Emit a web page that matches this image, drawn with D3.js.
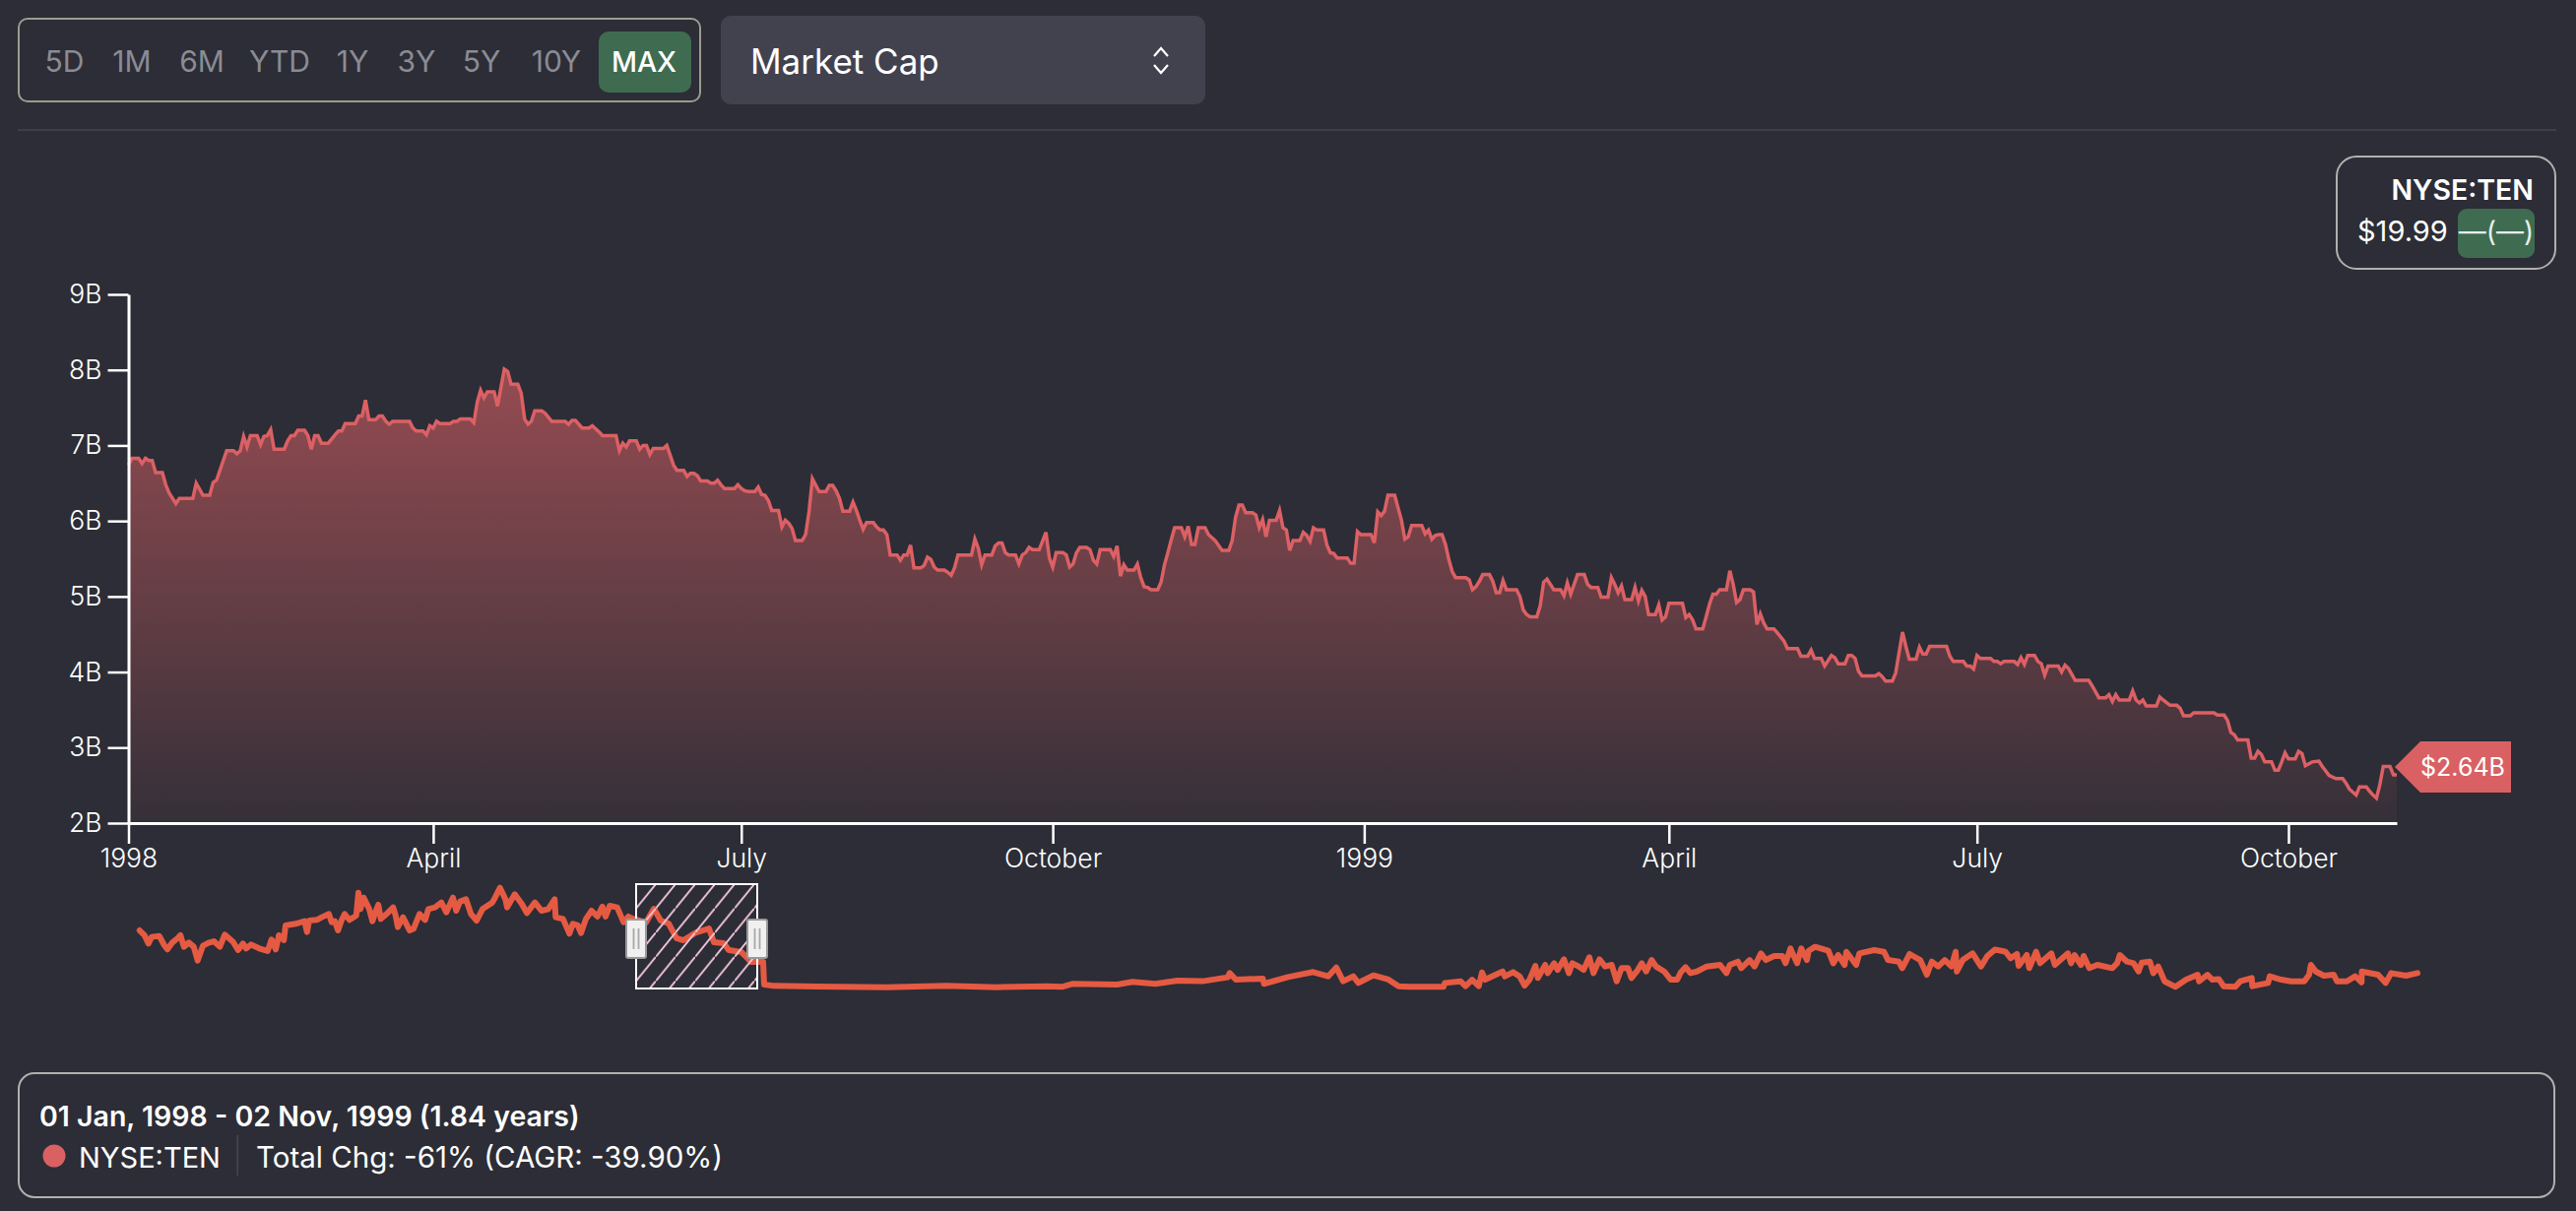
<!DOCTYPE html>
<html>
<head>
<meta charset="utf-8">
<script src="https://cdn.jsdelivr.net/npm/d3@7"></script>
<style>
html,body{margin:0;padding:0;background:#2c2d36;}
svg{display:block;}
text{font-family:Inter,"Noto Sans",sans-serif;}
</style>
</head>
<body>
<svg id="chart" width="2616" height="1230"></svg>
<script>
// ---- data ----
const startDate = "1998-01-01";
const dayOffsets = [
0,1,3,4,5,6,7,8,10,11,
12,14,15,19,20,22,24,25,26,29,
31,32,33,34,35,36,38,39,40,41,
42,43,46,47,48,49,50,52,53,54,
55,56,57,59,61,62,63,64,67,68,
69,70,71,73,74,75,76,77,78,83,
84,85,87,88,89,90,91,92,95,96,
97,98,101,102,103,104,105,106,108,109,
111,112,113,115,116,117,118,119,120,122,
123,125,129,130,131,132,134,136,137,139,
140,144,145,146,147,148,150,151,152,153,
154,155,158,159,160,161,162,164,165,166,
167,168,169,171,172,173,174,175,176,179,
180,181,182,183,185,186,187,188,189,190,
192,193,194,195,196,197,199,200,201,202,
204,206,207,208,209,210,211,213,214,215,
216,217,218,220,221,222,223,224,225,227,
228,229,230,231,232,234,235,236,237,238,
239,241,242,243,244,245,249,250,251,252,
253,255,256,257,258,259,260,262,263,264,
265,266,267,269,271,272,273,274,276,277,
278,279,280,281,283,284,285,286,287,290,
291,292,293,294,295,297,298,299,300,301,
302,304,305,306,307,308,309,311,312,313,
314,315,316,318,319,321,323,325,326,327,
328,329,330,332,333,334,335,336,337,339,
340,341,342,343,344,346,347,348,349,350,
351,353,354,355,356,357,360,361,362,363,
364,367,368,369,370,371,372,374,376,377,
378,379,382,383,384,385,386,387,388,389,
390,391,392,395,396,397,398,399,400,402,
403,404,405,406,407,410,411,412,413,414,
416,417,418,419,421,423,424,425,426,428,
430,431,432,434,435,437,438,439,440,441,
442,444,445,446,447,448,449,451,452,453,
454,455,459,460,461,462,463,465,466,467,
468,469,470,472,473,474,475,476,477,479,
480,481,482,483,484,486,487,489,490,493,
494,496,497,498,500,501,503,504,505,507,
508,509,510,511,512,516,517,518,519,521,
522,524,525,526,528,529,530,531,532,537,
538,539,542,543,544,545,546,547,550,551,
552,553,554,557,558,559,560,561,563,564,
565,566,567,570,571,572,573,574,575,579,
580,581,582,584,585,586,587,588,591,592,
593,594,595,596,599,600,601,603,605,606,
607,609,610,616,617,619,620,621,622,623,
626,627,628,629,630,631,633,634,635,636,
637,638,640,641,642,643,645,647,648,649,
650,652,654,655,656,658,659,661,662,663,
664,665,666,668,669,670];
const marketCapB = [
6.74,6.83,6.83,6.76,6.83,6.80,6.80,6.64,6.64,6.48,
6.37,6.23,6.30,6.30,6.50,6.34,6.34,6.51,6.54,6.93,
6.93,6.89,6.93,7.12,6.98,7.13,7.13,7.01,7.12,7.13,
7.21,6.95,6.95,7.06,7.13,7.13,7.20,7.20,7.13,6.95,
7.13,7.13,7.03,7.03,7.14,7.19,7.19,7.29,7.29,7.39,
7.39,7.60,7.34,7.34,7.39,7.39,7.32,7.28,7.32,7.32,
7.23,7.19,7.19,7.14,7.26,7.23,7.32,7.29,7.29,7.32,
7.32,7.35,7.35,7.30,7.57,7.73,7.63,7.71,7.71,7.52,
8.01,7.98,7.81,7.81,7.69,7.35,7.28,7.32,7.46,7.46,
7.43,7.32,7.32,7.28,7.33,7.33,7.23,7.23,7.26,7.18,
7.13,7.13,6.93,7.03,6.98,7.06,7.06,6.95,7.00,7.00,
6.88,6.96,6.96,7.00,6.87,6.74,6.67,6.67,6.59,6.63,
6.63,6.60,6.53,6.53,6.50,6.50,6.54,6.48,6.43,6.43,
6.48,6.43,6.40,6.39,6.39,6.45,6.35,6.34,6.27,6.14,
6.14,5.92,6.01,5.97,5.90,5.74,5.74,5.82,6.12,6.56,
6.39,6.39,6.47,6.47,6.40,6.30,6.13,6.13,6.25,6.14,
6.01,5.89,5.98,5.98,5.92,5.88,5.88,5.82,5.55,5.55,
5.48,5.55,5.55,5.68,5.38,5.38,5.41,5.52,5.49,5.39,
5.35,5.35,5.32,5.28,5.38,5.55,5.55,5.76,5.64,5.42,
5.55,5.55,5.67,5.71,5.71,5.58,5.55,5.55,5.43,5.55,
5.58,5.65,5.62,5.62,5.85,5.51,5.39,5.58,5.58,5.55,
5.39,5.43,5.58,5.65,5.65,5.62,5.48,5.43,5.62,5.62,
5.53,5.67,5.27,5.42,5.35,5.35,5.43,5.25,5.13,5.12,
5.09,5.09,5.19,5.42,5.58,5.75,5.91,5.91,5.79,5.93,
5.69,5.69,5.91,5.91,5.82,5.74,5.61,5.61,5.74,6.05,
6.21,6.21,6.11,6.11,6.08,5.91,6.02,5.79,6.01,6.01,
6.14,5.91,5.88,5.61,5.74,5.74,5.85,5.81,5.73,5.91,
5.88,5.88,5.68,5.58,5.57,5.51,5.51,5.44,5.44,5.86,
5.82,5.82,5.71,6.12,6.07,6.13,6.34,6.34,6.01,5.76,
5.79,5.94,5.94,5.83,5.88,5.76,5.81,5.82,5.82,5.69,
5.49,5.33,5.25,5.25,5.22,5.09,5.13,5.20,5.29,5.29,
5.20,5.05,5.05,5.21,5.09,5.09,5.00,4.82,4.76,4.73,
4.73,4.88,5.19,5.23,5.09,5.09,5.01,5.18,5.03,5.29,
5.29,5.16,5.12,5.12,4.99,4.99,5.25,5.16,5.05,5.14,
4.96,4.96,5.12,4.94,5.08,5.00,4.76,4.76,4.89,4.69,
4.73,4.91,4.91,4.72,4.76,4.69,4.57,4.57,4.73,4.90,
5.03,5.03,5.09,5.09,5.34,5.16,4.92,4.96,5.09,5.09,
5.06,4.63,4.77,4.65,4.57,4.57,4.52,4.41,4.31,4.31,
4.21,4.21,4.29,4.18,4.18,4.08,4.22,4.19,4.11,4.11,
4.22,4.22,4.18,4.01,3.95,3.95,3.98,3.94,3.88,3.88,
3.99,4.53,4.34,4.17,4.17,4.33,4.24,4.24,4.34,4.34,
4.21,4.14,4.14,4.08,4.08,4.04,4.22,4.18,4.18,4.14,
4.14,4.11,4.14,4.14,4.10,4.19,4.10,4.22,4.22,4.14,
4.11,3.96,4.08,4.08,4.00,4.09,4.05,3.97,3.89,3.89,
3.82,3.74,3.66,3.66,3.70,3.61,3.70,3.63,3.63,3.75,
3.63,3.59,3.63,3.55,3.55,3.67,3.63,3.56,3.56,3.52,
3.42,3.42,3.46,3.46,3.43,3.43,3.36,3.20,3.17,3.10,
3.10,2.86,2.86,2.95,2.91,2.81,2.81,2.70,2.70,2.81,
2.93,2.85,2.85,2.95,2.92,2.76,2.81,2.82,2.75,2.69,
2.63,2.59,2.59,2.53,2.45,2.37,2.48,2.48,2.42,2.37,
2.33,2.51,2.75,2.75,2.64,2.64];

const navSessions = [
3,23,39,52,83,103,116,136,156,169,183,203,223,239,260,283,305,329,349,383,
403,423,436,456,489,523,539,556,569,589,596,636,673,683,692,723,743,772,783,796,
809,823,836,856,883,892,900,913,936,949,959,973,983,1009,1033,1043,1052,1073,1100,1116,
1140,1163,1176,1203,1229,1249,1276,1289,1305,1329,1349,1372,1396,1436,1447,1467,1489,1496,1527,1556,
1576,1609,1636,1663,1689,1693,1723,1749,1763,1783,1796,1816,1839,1863,1883,1896,1913,1943,1969,1989,
1996,2060,2092,2120,2152,2184,2212,2264,2316,2336,2376,2396,2448,2488,2536,2540,2580,2756,3036,3281,
3485,3689,3750,3791,3974,4036,4129,4219,4321,4423,4431,4456,4566,4570,4668,4770,4831,4864,4892,4933,
4954,5015,5076,5117,5158,5300,5305,5369,5389,5416,5443,5456,5469,5503,5540,5549,5583,5609,5629,5649,
5673,5683,5713,5723,5749,5763,5789,5809,5823,5849,5869,5892,5909,5933,5956,5983,6003,6023,6049,6063,
6089,6105,6123,6145,6163,6196,6223,6249,6263,6283,6303,6329,6369,6423,6449,6463,6496,6509,6543,6563,
6589,6609,6643,6676,6689,6709,6736,6753,6776,6783,6809,6863,6883,6903,6929,6936,6976,6989,7049,7089,
7105,7149,7163,7193,7236,7263,7283,7309,7336,7363,7380,7385,7409,7449,7483,7509,7540,7583,7603,7629,
7636,7669,7679,7707,7723,7769,7783,7836,7849,7863,7889,7900,7923,7956,8016,8036,8047,8076,8103,8123,
8136,8169,8183,8203,8229,8273,8316,8363,8369,8403,8423,8449,8469,8516,8536,8583,8585,8649,8656,8703,
8743,8796,8816,8823,8843,8876,8916,8929,8969,9003,9029,9030,9096,9127,9149,9209,9256];
const navValuesB = [
5.27,4.82,4.06,4.67,4.76,3.91,3.52,4.15,4.52,4.82,3.76,4.15,3.76,2.49,3.85,4.12,4.27,3.76,4.88,4.21,
3.46,4.06,3.61,3.97,3.61,3.37,4.43,3.52,4.82,4.37,5.73,5.88,6.12,5.12,6.18,6.24,6.49,6.79,6.03,6.12,
5.27,6.18,6.79,6.24,6.64,8.76,7.24,8.30,7.24,6.12,6.85,7.64,6.33,6.85,7.40,6.64,5.58,6.49,5.27,5.43,
6.79,6.24,7.24,7.40,7.85,6.94,8.30,7.09,7.94,8.15,6.79,6.18,7.24,7.85,8.30,9.21,8.15,7.40,8.61,7.70,
6.88,7.85,7.09,7.24,8.15,6.49,6.33,4.97,5.88,5.73,5.03,6.33,7.09,6.55,7.46,6.55,7.55,7.40,6.03,6.55,
6.45,6.00,7.27,6.18,5.91,4.55,4.36,5.09,5.45,4.18,4.09,3.45,3.27,2.36,2.36,0.27,0.15,0.10,0.03,0.15,
0.03,0.12,0.06,0.34,0.28,0.52,0.34,0.64,0.58,0.94,1.34,0.73,0.82,0.34,0.97,1.43,1.03,1.85,0.58,1.03,
0.43,1.12,0.73,0.12,0.06,0.06,0.42,0.57,0.12,0.72,0.12,1.39,0.72,1.09,1.48,1.03,1.42,1.03,0.18,0.72,
2.00,0.88,2.09,1.33,2.24,1.63,2.60,1.33,2.24,1.94,1.63,2.79,1.33,2.60,1.94,2.09,0.57,1.79,1.79,0.88,
1.63,2.24,1.48,2.54,1.94,1.48,0.72,0.72,1.39,1.88,1.33,1.48,1.94,2.09,1.33,2.09,2.39,1.79,2.54,1.94,
3.15,2.54,2.91,2.91,2.24,3.60,2.24,3.60,2.54,3.39,3.76,3.39,2.24,3.00,2.09,3.30,2.09,3.15,3.45,3.30,
2.54,2.39,1.79,3.09,2.54,1.18,2.39,1.94,2.54,1.94,3.30,1.48,2.54,3.15,1.94,2.91,3.51,3.30,2.70,3.09,
2.00,3.00,1.79,3.30,2.24,3.15,2.09,3.15,2.24,3.00,2.09,2.91,1.79,2.09,1.79,2.24,3.00,2.39,2.24,1.48,
2.30,2.39,1.33,1.94,0.57,0.06,0.72,1.18,0.57,1.18,0.72,0.78,0.12,0.06,0.57,0.88,0.12,0.42,1.03,0.72,
0.57,0.57,1.18,2.09,1.48,1.09,1.18,0.57,0.57,1.03,0.48,1.48,1.18,0.42,1.33,1.09,1.33];
const navSelection = [2020, 2512];

const yTicks = [2,3,4,5,6,7,8,9];
const xTickDates = ["1998-01-01","1998-04-01","1998-07-01","1998-10-01","1999-01-01","1999-04-01","1999-07-01","1999-10-01"];
const xTickLabels = ["1998","April","July","October","1999","April","July","October"];
const rangeLabels = ["5D","1M","6M","YTD","1Y","3Y","5Y","10Y","MAX"];
const rangeCentres = [65.5,134,205,284,358,423,489,565,654];

// ---- chart ----
const svg = d3.select("#chart");
const C = {bg:"#2c2d36", line:"#dc6064", nav:"#e55a42", green:"#3f6b51", panel:"#42424f", white:"#ffffff"};
const parse = d3.timeParse("%Y-%m-%d");
const t0 = parse(startDate);
const series = dayOffsets.map((d,i)=>({date:d3.timeDay.offset(t0,d), v:marketCapB[i]}));
const navSeries = navSessions.map((s,i)=>({s, v:navValuesB[i]}));

svg.append("rect").attr("width",2616).attr("height",1230).attr("fill",C.bg);

const defs = svg.append("defs");
const grad = defs.append("linearGradient").attr("id","areaFill").attr("x1",0).attr("x2",0).attr("y1",0).attr("y2",1);
grad.append("stop").attr("offset","0%").attr("stop-color",C.line).attr("stop-opacity",0.6);
grad.append("stop").attr("offset","100%").attr("stop-color",C.line).attr("stop-opacity",0.05);
const hatch = defs.append("pattern").attr("id","hatch").attr("patternUnits","userSpaceOnUse")
  .attr("width",20).attr("height",24.6).attr("x",646).attr("y",898);
hatch.append("line").attr("x1",-2).attr("y1",27.06).attr("x2",22).attr("y2",-2.46)
  .attr("stroke","#f0c4d8").attr("stroke-width",1.9);

// top controls
svg.append("rect").attr("x",19).attr("y",19).attr("width",692).attr("height",84).attr("rx",9)
  .attr("fill","none").attr("stroke","#9c9c8e").attr("stroke-width",2);
svg.append("rect").attr("x",608).attr("y",32).attr("width",94).attr("height",62).attr("rx",10).attr("fill",C.green);
svg.selectAll("text.range").data(rangeLabels).join("text").attr("class","range")
  .attr("x",(d,i)=>rangeCentres[i]).attr("y",73).attr("text-anchor","middle")
  .attr("font-size",d=>d==="MAX"?28.5:30).attr("fill",d=>d==="MAX"?"#ffffff":"#8b8b94").attr("font-weight",d=>d==="MAX"?500:400)
  .text(d=>d);
svg.append("rect").attr("x",732).attr("y",16).attr("width",492).attr("height",90).attr("rx",10).attr("fill",C.panel);
svg.append("text").attr("x",762).attr("y",75).attr("font-size",35).attr("fill","#fff").text("Market Cap");
svg.append("path").attr("d","M1172,57L1179,49L1186,57M1172,66L1179,74L1186,66")
  .attr("fill","none").attr("stroke","#fff").attr("stroke-width",2.2);
svg.append("rect").attr("x",18).attr("y",131).attr("width",2578).attr("height",2).attr("fill","#3f3f4c");

// legend box
svg.append("rect").attr("x",2373).attr("y",159).attr("width",222).attr("height",114).attr("rx",20)
  .attr("fill","none").attr("stroke","#b0b0b0").attr("stroke-width",2);
svg.append("text").attr("x",2573).attr("y",203).attr("text-anchor","end").attr("font-size",28.5).attr("font-weight",600).attr("fill","#fff").text("NYSE:TEN");
svg.append("text").attr("x",2394).attr("y",245).attr("font-size",29).attr("fill","#fff").text("$19.99");
svg.append("rect").attr("x",2496).attr("y",212).attr("width",78).attr("height",50).attr("rx",9).attr("fill",C.green);
svg.append("text").attr("x",2535).attr("y",245).attr("text-anchor","middle").attr("font-size",28).attr("fill","#e6efe9").text("—(—)");

// scales
const x = d3.scaleTime().domain([t0, d3.timeDay.offset(t0,670)]).range([130.5,2434]);
const y = d3.scaleLinear().domain([2,9]).range([836,299]);

const area = d3.area().x(d=>x(d.date)).y0(y(2)).y1(d=>y(d.v));
const line = d3.line().x(d=>x(d.date)).y(d=>y(d.v));
svg.append("path").datum(series).attr("d",area).attr("fill","url(#areaFill)");
svg.append("path").datum(series).attr("d",line).attr("fill","none").attr("stroke",C.line).attr("stroke-width",3.5);

// axes
const yAxis = d3.axisLeft(y).tickValues(yTicks).tickFormat(d=>d+"B").tickSize(21).tickSizeOuter(0).tickPadding(6);
const xAxis = d3.axisBottom(x).tickValues(xTickDates.map(parse)).tickFormat((d,i)=>xTickLabels[i]).tickSize(21).tickSizeOuter(0).tickPadding(5);
const gy = svg.append("g").attr("transform","translate(130.5,0)").call(yAxis);
const gx = svg.append("g").attr("transform","translate(0,836)").call(xAxis);
[gy,gx].forEach(g=>{
  g.selectAll("path.domain").attr("stroke","#fff").attr("stroke-width",3);
  g.selectAll(".tick line").attr("stroke","#fff").attr("stroke-width",2.5);
  g.selectAll(".tick text").attr("fill","#fff").attr("font-size",26.5).attr("font-weight",300).attr("font-family","Inter,sans-serif");
});

// price tag
svg.append("path").attr("d","M2432,779L2458,753L2550,753L2550,805L2458,805Z").attr("fill","#d96163");
svg.append("text").attr("x",2501).attr("y",788).attr("text-anchor","middle").attr("font-size",25).attr("fill","#fff").text("$2.64B");

// navigator
const nx = d3.scaleLinear().domain([0,9260]).range([141,2456]);
const ny = d3.scaleLinear().domain([0,9.4]).range([1003,899.6]);
const navLine = d3.line().x(d=>nx(d.s)).y(d=>ny(d.v));
svg.append("path").datum(navSeries).attr("d",navLine).attr("fill","none").attr("stroke",C.nav)
  .attr("stroke-width",6).attr("stroke-linejoin","round").attr("stroke-linecap","round");
const selX0 = nx(navSelection[0]), selX1 = nx(navSelection[1]);
svg.append("rect").attr("x",selX0).attr("y",898).attr("width",selX1-selX0).attr("height",106)
  .attr("fill","url(#hatch)").attr("stroke","#fff").attr("stroke-width",2);
[selX0,selX1].forEach(cx=>{
  svg.append("rect").attr("x",cx-10).attr("y",934).attr("width",20).attr("height",39).attr("rx",2)
    .attr("fill","#f0f0f0").attr("stroke","#9a9a9a").attr("stroke-width",2);
  [-2.5,2.5].forEach(dx=>svg.append("line").attr("x1",cx+dx).attr("x2",cx+dx).attr("y1",943).attr("y2",964)
    .attr("stroke","#a8a8a8").attr("stroke-width",1.8));
});

// footer
svg.append("rect").attr("x",19).attr("y",1090).attr("width",2575).attr("height",126).attr("rx",16)
  .attr("fill","none").attr("stroke","#b0b0b0").attr("stroke-width",2);
svg.append("text").attr("x",40).attr("y",1144).attr("font-size",28.5).attr("font-weight",600).attr("fill","#fff").text("01 Jan, 1998 - 02 Nov, 1999 (1.84 years)");
svg.append("circle").attr("cx",55).attr("cy",1174).attr("r",11.5).attr("fill","#d96163");
svg.append("text").attr("x",80).attr("y",1186).attr("font-size",29).attr("fill","#fff").text("NYSE:TEN");
svg.append("rect").attr("x",240.5).attr("y",1153).attr("width",1.5).attr("height",41).attr("fill","#464653");
svg.append("text").attr("x",260).attr("y",1186).attr("font-size",29.5).attr("fill","#fff").text("Total Chg: -61% (CAGR: -39.90%)");
</script>
</body>
</html>
